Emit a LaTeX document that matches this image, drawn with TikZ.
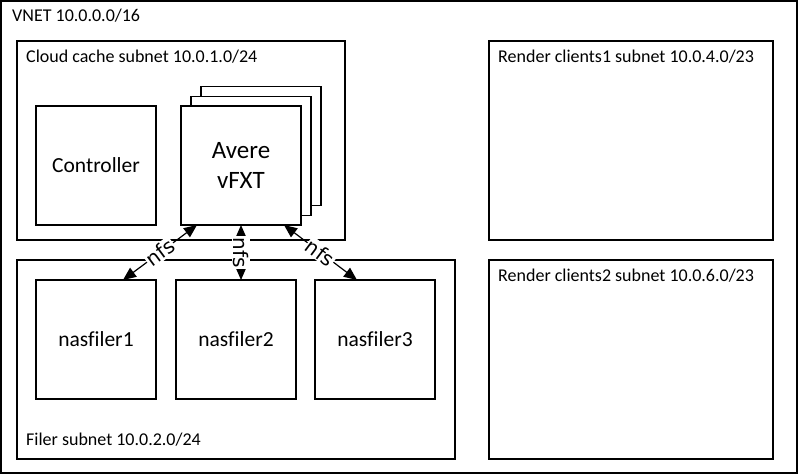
\documentclass[tikz,border=0pt]{standalone}
\usepackage{fontspec}
\setmainfont[Ligatures=NoCommon]{Carlito}
\newfontfamily\nfsfont{DejaVu Sans}
\usetikzlibrary{arrows.meta,calc}
\begin{document}
\begin{tikzpicture}[x=1pt,y=-1pt,
  box/.style={draw=black,line width=1.4pt,fill=white,inner sep=0pt,outer sep=0pt},
  sq/.style={box,minimum width=120pt,minimum height=119pt,font=\fontsize{21.5}{25}\selectfont},
  title/.style={anchor=west,inner sep=0pt,font=\fontsize{18}{21}\selectfont},
  arr/.style={line width=1.2pt,{Triangle[length=13pt,width=11pt]}-{Triangle[length=13pt,width=11pt]}},
  lbl/.style={fill=white,inner sep=1pt,font=\nfsfont\fontsize{20}{24}\selectfont}]
\useasboundingbox (0,0) rectangle (800,475);
\fill[white] (0,0) rectangle (800,475);
% containers
\node[box,minimum width=796pt,minimum height=472pt] (vnet) at (399,237) {};
\node[box,minimum width=328pt,minimum height=199pt] (cc) at (181,140.5) {};
\node[box,minimum width=438pt,minimum height=199pt] (filer) at (236,359.5) {};
\node[box,minimum width=284pt,minimum height=199pt] (rc1) at (631,140.5) {};
\node[box,minimum width=284pt,minimum height=199pt] (rc2) at (631,359.5) {};
% titles
\node[title] (tvnet) at (12,16) {VNET 10.0.0.0/16};
\node[title] (tcc) at (26,57) {Cloud cache subnet 10.0.1.0/24};
\node[title] (tfiler) at (26,440) {Filer subnet 10.0.2.0/24};
\node[title] (trc1) at (498,57) {Render clients1 subnet 10.0.4.0/23};
\node[title] (trc2) at (498,276) {Render clients2 subnet 10.0.6.0/23};
% cache nodes
\node[sq] (ctrl) at (96,165.5) {Controller};
\node[sq] (av3) at (261,146) {};
\node[sq] (av2) at (251,156) {};
\node[sq,align=center,font=\fontsize{25}{30}\selectfont] (av) at (241,165.5) {Avere\\vFXT};
% filers
\node[sq] (nas1) at (96,339.5) {nasfiler1};
\node[sq] (nas2) at (236,339.5) {nasfiler2};
\node[sq] (nas3) at (375,339.5) {nasfiler3};
% connectors
\coordinate (a1) at ($(av.south west)+(16,0)$);
\coordinate (a3) at ($(av.south east)+(-17,0)$);
\coordinate (b1) at ($(nas1.north)+(27,0)$);
\coordinate (b2) at (av.south |- nas2.north);
\coordinate (b3) at ($(nas3.north)+(-18,0)$);
\draw[arr] (a1) -- node[lbl,rotate=36.6] {nfs} (b1);
\draw[arr] (av.south) -- node[lbl,rotate=-90] {nfs} (b2);
\draw[arr] (a3) -- node[lbl,rotate=-36.6] {nfs} (b3);
\end{tikzpicture}
\end{document}
